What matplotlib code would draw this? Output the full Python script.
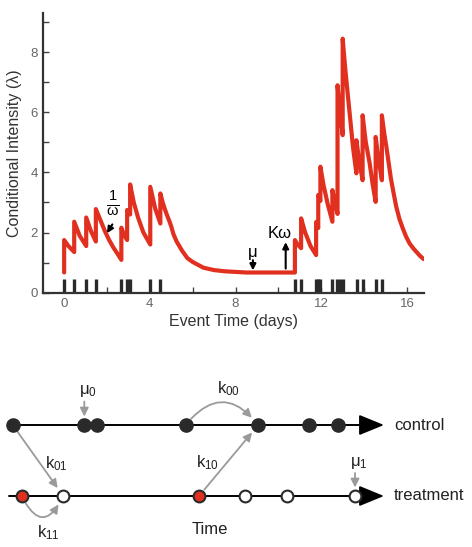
import matplotlib
matplotlib.use("Agg")
import matplotlib.pyplot as plt
from matplotlib.ticker import MultipleLocator

plt.rcParams['font.family'] = ['Liberation Sans', 'DejaVu Sans']
plt.rcParams['mathtext.fontset'] = 'custom'
plt.rcParams['mathtext.rm'] = 'Liberation Sans'
plt.rcParams['mathtext.it'] = 'Liberation Sans'
plt.rcParams['mathtext.bf'] = 'Liberation Sans:bold'

# --- top panel data: intensity curve (days, lambda)
t_curve = [0, 0, 0.2, 0.47, 0.47, 0.72, 1.03, 1.03, 1.25, 1.48, 1.48,
           1.7, 1.9, 2.1, 2.3, 2.5, 2.67, 2.67, 2.8, 2.94, 2.94, 3.08, 3.08,
           3.25, 3.45, 3.7, 4.02, 4.02, 4.25, 4.49, 4.49,
           4.6, 4.7, 4.8, 4.9, 5.0, 5.1, 5.25, 5.5, 5.75, 6.0, 6.5, 7.0, 7.5,
           8.0, 8.5, 10.77, 10.77, 10.9, 11.06, 11.06, 11.25, 11.5, 11.76,
           11.76, 11.86, 11.86, 11.96, 11.96, 12.1, 12.3, 12.52, 12.52, 12.64,
           12.76, 12.76, 12.88, 13.0, 13.0, 13.12, 13.25, 13.37, 13.48, 13.64,
           13.64, 13.78, 13.93, 13.93, 14.08, 14.26, 14.4, 14.54, 14.54, 14.68,
           14.83, 14.83, 14.94, 15.04, 15.15, 15.25, 15.38, 15.5, 15.65, 15.8,
           15.95, 16.12, 16.3, 16.45, 16.6, 16.77]
lam_curve = [0.67, 1.75, 1.55, 1.35, 2.36, 1.9, 1.55, 2.5, 2.05, 1.7, 2.78,
             2.4, 2.05, 1.75, 1.5, 1.28, 1.09, 2.16, 1.92, 1.75, 2.75, 2.6, 3.6,
             3.0, 2.5, 2.0, 1.6, 3.52, 2.8, 2.3, 3.3,
             3.0, 2.78, 2.58, 2.4, 2.2, 1.95, 1.7, 1.4, 1.15, 1.02, 0.83, 0.75,
             0.71, 0.69, 0.67, 0.67, 1.75, 1.6, 1.48, 2.47, 2.0, 1.55, 1.25,
             2.35, 2.15, 3.25, 3.05, 4.19, 3.6, 2.95, 2.36, 3.41, 3.0,
             2.62, 6.9, 6.0, 5.24, 8.45, 7.45, 6.5, 5.65, 4.85, 3.97,
             5.07, 4.35, 3.74, 5.9, 5.0, 4.3, 3.6, 3.02, 5.18, 4.4,
             3.74, 5.9, 5.3, 4.85, 4.3, 3.8, 3.3, 2.86, 2.45, 2.15,
             1.88, 1.64, 1.47, 1.35, 1.23, 1.12]
event_times = [0, 0.47, 1.03, 1.48, 2.67, 2.94, 3.08, 4.02, 4.49, 10.77, 11.06,
               11.76, 11.86, 11.96, 12.52, 12.74, 12.86, 13.0, 13.66, 13.93,
               14.54, 14.85]
rug_height = 0.45

# --- bottom panel (schematic, in picture units)
control_x = [12.7, 84.3, 97.3, 185.7, 258.3, 309.3, 338.3]
treat_white_x = [63.3, 245, 287.3, 355]
treat_red_x = [21.7, 199]
control_y = 425
treat_y = 496

red = '#e1301f'
dark = '#2a2a2a'
gray = '#9a9a9a'

fig = plt.figure(figsize=(4.72, 5.47), dpi=100)

# ---------------- top panel
ax = fig.add_axes([0.0905, 0.465, 0.808, 0.511])
ax.plot(t_curve, lam_curve, color=red, lw=3.0, solid_joinstyle='round',
        solid_capstyle='round', zorder=3)
ax.vlines(event_times, 0, rug_height, color=dark, lw=2.4, zorder=2)
ax.set_xlim(-1, 16.8)
ax.set_ylim(0, 9.3)
ax.xaxis.set_major_locator(MultipleLocator(4))
ax.xaxis.set_minor_locator(MultipleLocator(2))
ax.yaxis.set_major_locator(MultipleLocator(2))
ax.yaxis.set_minor_locator(MultipleLocator(1))
ax.tick_params(which='both', direction='in', colors='#444444', labelcolor='#666666',
               labelsize=9.5, width=1.0)
ax.tick_params(which='major', length=4)
ax.tick_params(which='minor', length=4)
for s in ['top', 'right']:
    ax.spines[s].set_visible(False)
for s in ['left', 'bottom']:
    ax.spines[s].set_color('#333333')
    ax.spines[s].set_linewidth(1.6)
ax.set_xlabel('Event Time (days)', fontsize=11.5, color='#333333', labelpad=3)
ax.set_ylabel('Conditional Intensity (λ)', fontsize=11.5, color='#333333', labelpad=6)

arrow_kw = dict(arrowstyle='-|>', color='black', lw=1.5, mutation_scale=9,
                shrinkA=0, shrinkB=0)
ax.text(2.28, 2.95, r'$\frac{1}{\omega}$', fontsize=15, ha='center', va='center')
ax.annotate('', xy=(2.0, 1.98), xytext=(2.25, 2.27), arrowprops=arrow_kw)
ax.text(8.81, 1.35, 'μ', fontsize=12, ha='center', va='center')
ax.annotate('', xy=(8.81, 0.74), xytext=(8.81, 1.08), arrowprops=arrow_kw)
ax.text(10.07, 1.98, 'Kω', fontsize=12, ha='center', va='center')
ax.annotate('', xy=(10.34, 1.68), xytext=(10.34, 0.8), arrowprops=arrow_kw)

# ---------------- bottom panel
bx = fig.add_axes([0, 0, 1, 207 / 547])
bx.set_xlim(0, 472)
bx.set_ylim(547, 340)
bx.axis('off')

head_kw = dict(arrowstyle='-|>,head_length=1.1,head_width=0.45', color='black',
               lw=1.4, mutation_scale=14, shrinkA=0, shrinkB=0)
bx.annotate('', xy=(384, control_y), xytext=(12, control_y), arrowprops=head_kw)
bx.annotate('', xy=(384, treat_y), xytext=(9, treat_y), arrowprops=head_kw)

g_kw = dict(arrowstyle='-|>,head_length=0.5,head_width=0.25', color=gray, lw=1.3,
            mutation_scale=10, shrinkA=6, shrinkB=7)
bx.annotate('', xy=(258.3, control_y), xytext=(185.7, control_y),
            arrowprops=dict(g_kw, connectionstyle='arc3,rad=-0.62'))
bx.annotate('', xy=(63.3, treat_y), xytext=(21.7, treat_y),
            arrowprops=dict(g_kw, connectionstyle='arc3,rad=1.0'))
bx.annotate('', xy=(63.3, treat_y), xytext=(12.7, control_y), arrowprops=g_kw)
bx.annotate('', xy=(258.3, control_y), xytext=(199, treat_y), arrowprops=g_kw)
g2 = dict(g_kw, shrinkA=0, shrinkB=0)
bx.annotate('', xy=(84.3, 416.5), xytext=(84.3, 401.5), arrowprops=g2)
bx.annotate('', xy=(355, 487.5), xytext=(355, 473), arrowprops=g2)

bx.plot(control_x, [control_y] * len(control_x), 'o', ms=9.5, mfc=dark, mec=dark,
        ls='none', zorder=5)
bx.plot(treat_white_x, [treat_y] * len(treat_white_x), 'o', ms=8.5, mfc='white',
        mec=dark, mew=1.5, ls='none', zorder=5)
bx.plot(treat_red_x, [treat_y] * len(treat_red_x), 'o', ms=8.5, mfc=red,
        mec=dark, mew=1.5, ls='none', zorder=5)

lab = dict(fontsize=12, color='#222222', va='center')
bx.text(394, control_y, 'control', **lab)
bx.text(394, treat_y, 'treatment', **lab)
bx.text(210, 530, 'Time', ha='center', **lab)
bx.text(88, 391, 'μ$_0$', ha='center', **lab)
bx.text(359, 463, 'μ$_1$', ha='center', **lab)
bx.text(229, 389, 'k$_{00}$', ha='center', **lab)
bx.text(56, 464, 'k$_{01}$', ha='center', **lab)
bx.text(208, 463, 'k$_{10}$', ha='center', **lab)
bx.text(48, 533, 'k$_{11}$', ha='center', **lab)

fig.savefig('out.png', dpi=100)
